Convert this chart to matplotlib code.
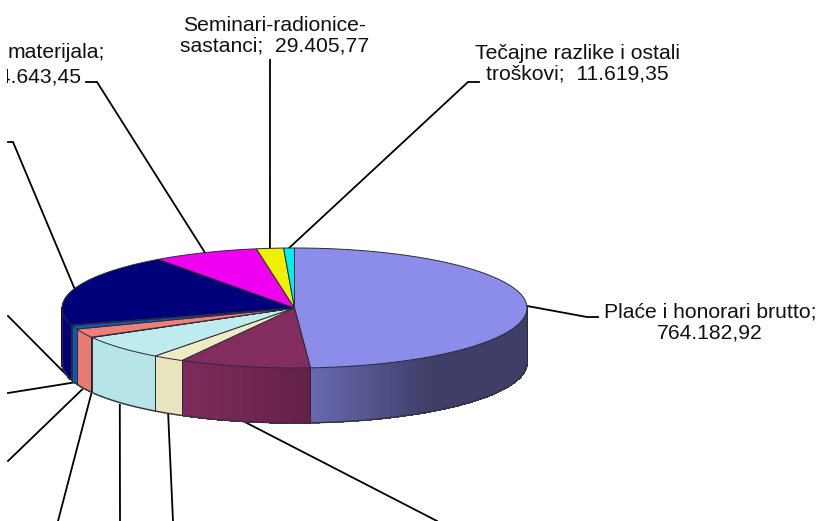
import numpy as np
import matplotlib
matplotlib.use("Agg")
import matplotlib.pyplot as plt
from matplotlib.patches import Polygon, Rectangle

# slices clockwise from 12 o'clock; only some of the values are printed in the chart
values = [764182.92, 143000, 34000, 103000, 1500, 37000, 14700, 3500, 306000,
          114643.45, 29405.77, 11619.35]
colors = ['#8C8CEB', '#832C5F', '#EFEBC3', '#BDEBEE', '#3F6F6A', '#EE7F78',
          '#0F5CB0', '#A9BCE8', '#00007B', '#F000F0', '#F0F000', '#00F0F0']

# outer end of each leader line, one per slice
leader_ends = [[(587, 317), (598, 317)], [(437, 521)], [(173, 521)], [(120, 521)],
               [(58, 521)], [(8, 461)], [(8, 393)], [(8, 316)],
               [(13, 142), (8, 142)], [(97, 82), (86, 82)], [(270, 60)],
               [(468, 82), (479, 82)]]

labels = [(710, 322.5, 'Plaće i honorari brutto;\n764.182,92'),
          (275, 36, 'Seminari-radionice-\nsastanci;  29.405,77'),
          (577.5, 64, 'Tečajne razlike i ostali\ntroškovi;  11.619,35')]

cx, cy, a, b, depth = 294.5, 308, 232.5, 60, 55
font_size = 15.2

plt.rcParams['font.family'] = ['Liberation Sans', 'DejaVu Sans']

fig = plt.figure(figsize=(8.23, 5.21), dpi=100)
ax = fig.add_axes([0, 0, 1, 1])
ax.set_xlim(0, 823)
ax.set_ylim(521, 0)
ax.axis('off')


def rim(deg):
    t = np.radians(deg)
    return cx + a * np.sin(t), cy - b * np.cos(t)


def shade(x):
    # side wall gets darker towards the right
    return np.interp(x, [180, 311, 430], [0.97, 0.75, 0.44])


edges = np.concatenate([[0], np.cumsum(values)]) / sum(values) * 360
edge_col = '#2b2b3a'

# side wall, front half only
for i, col in enumerate(colors):
    lo, hi = max(edges[i], 90), min(edges[i + 1], 270)
    if lo >= hi:
        continue
    steps = np.linspace(lo, hi, max(int((hi - lo) * 2), 1) + 1)
    base = np.array(matplotlib.colors.to_rgb(col))
    for s0, s1 in zip(steps[:-1], steps[1:]):
        x0, y0 = rim(s0)
        x1, y1 = rim(s1)
        c = base * shade((x0 + x1) / 2)
        ax.add_patch(Polygon([(x0, y0), (x1, y1), (x1, y1 + depth), (x0, y0 + depth)],
                             facecolor=c, edgecolor=c, lw=0.5, antialiased=False, zorder=2))
    for s in (lo, hi):
        x0, y0 = rim(s)
        ax.plot([x0, x0], [y0, y0 + depth], color=edge_col, lw=0.7, zorder=3)

# bottom curve of the wall
front = np.linspace(90, 270, 300)
fx, fy = rim(front)
ax.plot(fx, fy + depth, color='#333340', lw=1.0, zorder=3)

# top face
for i, col in enumerate(colors):
    arc = np.linspace(edges[i], edges[i + 1], max(int(edges[i + 1] - edges[i]) * 2, 2))
    px, py = rim(arc)
    pts = [(cx, cy)] + list(zip(px, py))
    ax.add_patch(Polygon(pts, closed=True, facecolor=col, edgecolor=edge_col,
                         lw=0.7, joinstyle='round', zorder=4))

clip = Rectangle((7, 0), 816, 521, transform=ax.transData)

# leader lines start at the middle of each slice
mids = (edges[:-1] + edges[1:]) / 2
for mid, ends in zip(mids, leader_ends):
    x0, y0 = rim(mid)
    if 90 < mid < 270:
        y0 += depth
    xs = [x0] + [p[0] for p in ends]
    ys = [y0] + [p[1] for p in ends]
    ax.plot(xs, ys, color='black', lw=1.3, zorder=1, solid_joinstyle='miter', clip_path=clip)

for x, y, s in labels:
    ax.text(x, y, s, ha='center', va='center', fontsize=font_size, linespacing=1.12, color='#111111')

# these two are cut off by the left edge of the chart
for x, y, s in [(105, 53, 'materijala;'), (81, 77, '114.643,45')]:
    t = ax.text(x, y, s, ha='right', va='center', fontsize=font_size, color='#111111')
    t.set_clip_path(clip)
    t.set_clip_on(True)

fig.savefig('out.png', dpi=100)
